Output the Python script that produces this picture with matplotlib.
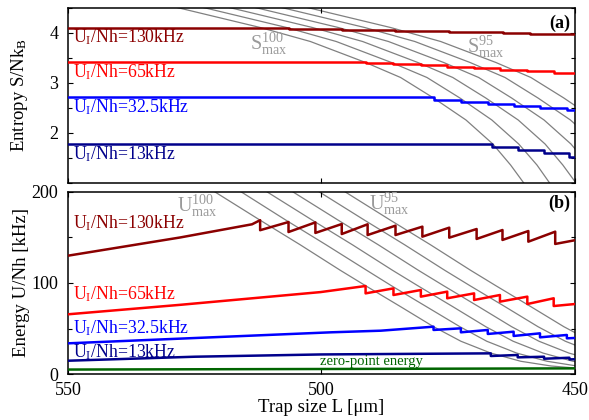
import matplotlib.pyplot as plt
from matplotlib.ticker import MultipleLocator

plt.rcParams['font.family'] = ['Liberation Serif', 'DejaVu Serif']
plt.rcParams['mathtext.fontset'] = 'custom'
plt.rcParams['mathtext.rm'] = 'Liberation Serif'
plt.rcParams['mathtext.it'] = 'Liberation Serif:italic'
plt.rcParams['mathtext.bf'] = 'Liberation Serif:bold'
plt.rcParams['mathtext.default'] = 'rm'

# ---- data ----
labels = [r'U$_{\rm I}$/Nh=130kHz', r'U$_{\rm I}$/Nh=65kHz',
          r'U$_{\rm I}$/Nh=32.5kHz', r'U$_{\rm I}$/Nh=13kHz']
colors = ['#8b0000', '#ff0000', '#0000ff', '#00008b']

# entropy (a): step positions L and levels S (post-step)
s130_L = [550, 512.1, 506.5, 501.2, 496.0, 490.9, 485.4, 480.2, 474.9, 469.8, 464.2, 458.9, 453.6, 450]
s130_S = [4.10, 4.095, 4.085, 4.075, 4.065, 4.055, 4.045, 4.035, 4.02, 4.01, 4.0, 3.985, 3.97, 3.97]
s65_L = [550, 491.3, 485.8, 480.4, 475.2, 469.9, 464.8, 459.4, 454.2, 450]
s65_S = [3.41, 3.40, 3.38, 3.35, 3.32, 3.29, 3.26, 3.23, 3.20, 3.20]
s32_L = [550, 477.9, 472.5, 467.2, 462.1, 456.9, 451.6, 450]
s32_S = [2.72, 2.66, 2.62, 2.58, 2.54, 2.50, 2.45, 2.45]
s13_L = [550, 466.4, 461.3, 456.1, 451.2, 450]
s13_S = [1.78, 1.71, 1.65, 1.59, 1.52, 1.52]

# S_max curves (100 ... 95)
smax_S = [4.51, 4.11, 3.83, 3.41, 3.11, 2.70, 2.26, 1.78, 1.36, 1.00]
smax_L100 = [528.5, 512.1, 502.2, 491.3, 484.4, 477.9, 471.5, 466.2, 462.7, 460.1]
smax_L99 = [523.3, 506.9, 497.1, 486.2, 479.2, 472.7, 466.4, 461.1, 457.5, 455.0]
smax_L98 = [518.2, 501.8, 491.9, 481.0, 474.1, 467.6, 461.2, 455.9, 452.4, 449.8]
smax_L97 = [513.1, 496.7, 486.8, 475.9, 469.0, 462.5, 456.1, 450.8, 447.3, 444.7]
smax_L96 = [507.9, 491.5, 481.6, 470.7, 463.8, 457.3, 450.9, 445.6, 442.1, 439.5]
smax_L95 = [502.8, 486.4, 476.5, 465.6, 458.7, 452.2, 445.8, 440.5, 437.0, 434.4]

# energy (b)
u130_L = [550, 527.9, 513.7, 512.1, 512.1, 506.5, 506.5, 501.2, 501.2, 496.0, 496.0,
          490.9, 490.9, 485.4, 485.4, 480.1, 480.1, 474.8, 474.8, 469.4, 469.4,
          464.3, 464.3, 459.2, 459.2, 453.9, 453.9, 450]
u130_U = [130, 150, 164.5, 169, 158, 167, 156, 166.6, 155, 164.8, 153.8,
          164.5, 152.7, 163, 152.7, 161.9, 150.9, 160.8, 149.8, 159.3, 148.4,
          158.2, 147.3, 157.1, 145.4, 156.4, 142.9, 147]
u65_L = [550, 527.9, 500.2, 491.3, 491.3, 485.8, 485.8, 480.4, 480.4, 475.2, 475.2,
         469.9, 469.9, 464.8, 464.8, 459.4, 459.4, 454.2, 454.2, 450]
u65_U = [65.6, 76, 90, 96.7, 88.6, 94.1, 86.8, 92.3, 85, 90.5, 83.2,
         88.6, 81.3, 86.8, 79.5, 85, 76.9, 83.2, 74.7, 76.9]
u32_L = [550, 498.2, 488.3, 477.9, 477.9, 472.5, 472.5, 467.2, 467.2, 462.1, 462.1,
         456.9, 456.9, 451.6, 451.6, 450]
u32_U = [33.7, 45.8, 47.6, 52, 48.4, 50.2, 45.8, 48.4, 44, 46.5, 41.8,
         44.7, 40.3, 42.9, 39.2, 39.6]
u13_L = [550, 525, 500, 466.6, 466.6, 461.3, 461.3, 456.1, 456.1, 451.1, 451.1, 450]
u13_U = [14.6, 19, 21.5, 22.7, 19.8, 20.9, 18.3, 19, 16.8, 17.9, 16.1, 16.2]
zp_L = [550, 500, 450]
zp_U = [4.9, 5.5, 6.2]

# U_max curves (100 ... 95)
umax_U = [200, 169, 142, 114, 97, 74, 52, 36, 23, 14, 8.8, 6.6]
umax_L100 = [521.0, 512.1, 504.2, 496.3, 491.3, 484.4, 477.9, 472.5, 466.6, 460.7, 454.7, 450.0]
umax_L99 = [515.8, 507.0, 499.1, 491.1, 486.2, 479.3, 472.7, 467.4, 461.5, 455.5, 449.6, 444.9]
umax_L98 = [510.7, 501.8, 493.9, 486.0, 481.0, 474.1, 467.6, 462.2, 456.3, 450.4, 444.4, 439.7]
umax_L97 = [505.6, 496.7, 488.8, 480.9, 475.9, 469.0, 462.5, 457.1, 451.2, 445.3, 439.3, 434.6]
umax_L96 = [500.4, 491.5, 483.6, 475.7, 470.7, 463.8, 457.3, 451.9, 446.0, 440.1, 434.1, 429.4]
umax_L95 = [495.3, 486.4, 478.5, 470.6, 465.6, 458.7, 452.2, 446.8, 440.9, 435.0, 429.0, 424.3]

# ---- figure ----
fig = plt.figure(figsize=(5.89, 4.2), dpi=100)
ax1 = fig.add_axes([0.1154, 0.5643, 0.8608, 0.4167])
ax2 = fig.add_axes([0.1154, 0.1095, 0.8608, 0.4334])

grey = '#808080'
for Ls in [smax_L100, smax_L99, smax_L98, smax_L97, smax_L96, smax_L95]:
    ax1.plot(Ls, smax_S, color=grey, lw=0.9, zorder=1)
for Ls in [umax_L100, umax_L99, umax_L98, umax_L97, umax_L96, umax_L95]:
    ax2.plot(Ls, umax_U, color=grey, lw=0.9, zorder=1)

s_series = [(s130_L, s130_S), (s65_L, s65_S), (s32_L, s32_S), (s13_L, s13_S)]
for (Ls, Ss), c in zip(s_series, colors):
    ax1.step(Ls, Ss, where='post', color=c, lw=1.8, zorder=3)

u_series = [(u130_L, u130_U), (u65_L, u65_U), (u32_L, u32_U), (u13_L, u13_U)]
for (Ls, Us), c in zip(u_series, colors):
    ax2.plot(Ls, Us, color=c, lw=1.8, zorder=3)
ax2.plot(zp_L, zp_U, color='#006400', lw=1.8, zorder=3)

# text labels
s_text_y = [3.815, 3.12, 2.416, 1.47]
u_text_y = [160, 82, 44.7, 18.3]
for lab, c, ys, yu in zip(labels, colors, s_text_y, u_text_y):
    ax1.text(549.0, ys, lab, color=c, fontsize=12.8, va='baseline', ha='left')
    ax2.text(549.0, yu, lab, color=c, fontsize=12.8, va='baseline', ha='left')
ax2.text(500.2, 9.9, 'zero-point energy', color='#006400', fontsize=10.5, va='baseline', ha='left')

lgrey = '#9a9a9a'
ax1.text(510.5, 3.79, r'S$^{100}_{\rm max}$', color=lgrey, fontsize=14.5, ha='center', va='center')
ax1.text(467.6, 3.72, r'S$^{95}_{\rm max}$', color=lgrey, fontsize=14.5, ha='center', va='center')
ax2.text(524.5, 184.6, r'U$^{100}_{\rm max}$', color=lgrey, fontsize=14.5, ha='center', va='center')
ax2.text(486.6, 186.8, r'U$^{95}_{\rm max}$', color=lgrey, fontsize=14.5, ha='center', va='center')

ax1.text(0.99, 0.915, '(a)', transform=ax1.transAxes, fontsize=13, fontweight='bold',
         ha='right', va='center')
ax2.text(0.99, 0.935, '(b)', transform=ax2.transAxes, fontsize=13, fontweight='bold',
         ha='right', va='center')

# axes
ax1.set_xlim(550, 450)
ax2.set_xlim(550, 450)
ax1.set_ylim(1.0, 4.5)
ax2.set_ylim(0, 200)
for ax in (ax1, ax2):
    ax.xaxis.set_major_locator(MultipleLocator(50))
    ax.tick_params(which='both', direction='in', top=True, right=True, labelsize=13, width=0.8)
    ax.tick_params(which='major', length=3.5, pad=6)
    ax.tick_params(which='minor', length=3)
    ax.tick_params(axis='y', which='major', pad=7)
    for sp in ax.spines.values():
        sp.set_linewidth(1.1)
ax1.yaxis.set_major_locator(MultipleLocator(1))
ax1.yaxis.set_minor_locator(MultipleLocator(0.5))
ax2.yaxis.set_major_locator(MultipleLocator(100))
ax2.yaxis.set_minor_locator(MultipleLocator(50))
ax1.set_yticks([2, 3, 4])
ax1.tick_params(labelbottom=False)

ax1.set_ylabel(r'Entropy S/Nk$_{\rm B}$', fontsize=13.5)
ax2.set_ylabel('Energy U/Nh [kHz]', fontsize=13.5)
ax1.yaxis.set_label_coords(-0.075, 0.5)
ax2.yaxis.set_label_coords(-0.075, 0.5)
ax2.set_xlabel('Trap size L [μm]', fontsize=13.5)
ax2.xaxis.set_label_coords(0.5, -0.14)

fig.savefig('out.png', dpi=100)
